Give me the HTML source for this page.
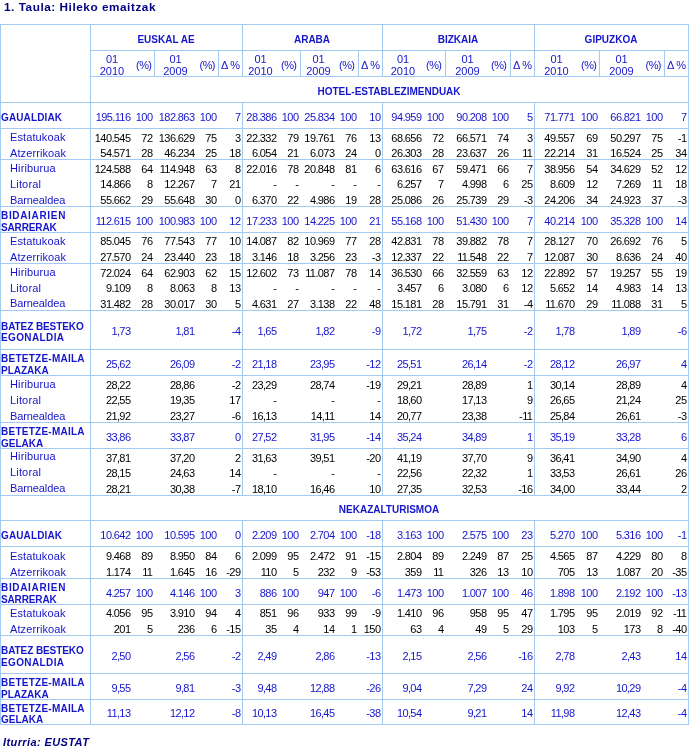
<!DOCTYPE html>
<html><head><meta charset="utf-8"><title>Hileko emaitzak</title><style>
html,body{margin:0;padding:0;background:#fff;}
body{width:691px;height:750px;position:relative;overflow:hidden;font-family:"Liberation Sans",sans-serif;}
#w{position:absolute;left:0;top:0;width:691px;height:750px;will-change:transform;}
.l{position:absolute;background:#a3cbf2;}
.n,.t,.b,.title,.foot{position:absolute;white-space:nowrap;line-height:20px;}
.n{font-size:11px;letter-spacing:-0.6px;}
.t{font-size:11px;}
.b{font-size:10px;font-weight:bold;}
.title{font-size:11.75px;font-weight:bold;color:#000080;letter-spacing:0.55px;}
.foot{font-size:11px;letter-spacing:0.4px;font-weight:bold;font-style:italic;color:#000080;}
</style></head><body>
<div id="w"><div class="l" style="left:0px;top:24px;width:689px;height:1px"></div>
<div class="l" style="left:0px;top:102px;width:689px;height:1px"></div>
<div class="l" style="left:0px;top:128px;width:689px;height:1px"></div>
<div class="l" style="left:0px;top:159px;width:689px;height:1px"></div>
<div class="l" style="left:0px;top:206px;width:689px;height:1px"></div>
<div class="l" style="left:0px;top:232px;width:689px;height:1px"></div>
<div class="l" style="left:0px;top:263px;width:689px;height:1px"></div>
<div class="l" style="left:0px;top:310px;width:689px;height:1px"></div>
<div class="l" style="left:0px;top:349px;width:689px;height:1px"></div>
<div class="l" style="left:0px;top:375px;width:689px;height:1px"></div>
<div class="l" style="left:0px;top:422px;width:689px;height:1px"></div>
<div class="l" style="left:0px;top:448px;width:689px;height:1px"></div>
<div class="l" style="left:0px;top:495px;width:689px;height:1px"></div>
<div class="l" style="left:0px;top:520px;width:689px;height:1px"></div>
<div class="l" style="left:0px;top:546px;width:689px;height:1px"></div>
<div class="l" style="left:0px;top:578px;width:689px;height:1px"></div>
<div class="l" style="left:0px;top:604px;width:689px;height:1px"></div>
<div class="l" style="left:0px;top:635px;width:689px;height:1px"></div>
<div class="l" style="left:0px;top:673px;width:689px;height:1px"></div>
<div class="l" style="left:0px;top:699px;width:689px;height:1px"></div>
<div class="l" style="left:0px;top:724px;width:689px;height:1px"></div>
<div class="l" style="left:90px;top:50px;width:599px;height:1px"></div>
<div class="l" style="left:90px;top:76px;width:599px;height:1px"></div>
<div class="l" style="left:0px;top:24px;width:1px;height:701px"></div>
<div class="l" style="left:688px;top:24px;width:1px;height:701px"></div>
<div class="l" style="left:90px;top:24px;width:1px;height:701px"></div>
<div class="l" style="left:242px;top:24px;width:1px;height:52px"></div>
<div class="l" style="left:242px;top:102px;width:1px;height:393px"></div>
<div class="l" style="left:242px;top:520px;width:1px;height:204px"></div>
<div class="l" style="left:382px;top:24px;width:1px;height:52px"></div>
<div class="l" style="left:382px;top:102px;width:1px;height:393px"></div>
<div class="l" style="left:382px;top:520px;width:1px;height:204px"></div>
<div class="l" style="left:534px;top:24px;width:1px;height:52px"></div>
<div class="l" style="left:534px;top:102px;width:1px;height:393px"></div>
<div class="l" style="left:534px;top:520px;width:1px;height:204px"></div>
<div class="l" style="left:154px;top:50px;width:1px;height:26px"></div>
<div class="l" style="left:218px;top:50px;width:1px;height:26px"></div>
<div class="l" style="left:300px;top:50px;width:1px;height:26px"></div>
<div class="l" style="left:358px;top:50px;width:1px;height:26px"></div>
<div class="l" style="left:445px;top:50px;width:1px;height:26px"></div>
<div class="l" style="left:510px;top:50px;width:1px;height:26px"></div>
<div class="l" style="left:599px;top:50px;width:1px;height:26px"></div>
<div class="l" style="left:664px;top:50px;width:1px;height:26px"></div>
<div class="title" style="left:4px;top:-3px">1. Taula: Hileko emaitzak</div>
<div class="foot" style="left:3px;top:732px">Iturria: EUSTAT</div>
<div class="b" style="left:-34px;width:400px;text-align:center;top:30px;color:#1515cc;">EUSKAL AE</div>
<div class="t" style="left:-88px;width:400px;text-align:center;top:49px;color:#1515cc;">01</div>
<div class="t" style="left:-88px;width:400px;text-align:center;top:61px;color:#1515cc;">2010</div>
<div class="t" style="left:-24.5px;width:400px;text-align:center;top:49px;color:#1515cc;">01</div>
<div class="t" style="left:-24.5px;width:400px;text-align:center;top:61px;color:#1515cc;">2009</div>
<div class="n" style="right:539.6px;top:55px;color:#1515cc">(%)</div>
<div class="n" style="right:476.1px;top:55px;color:#1515cc">(%)</div>
<div class="n" style="right:451.6px;top:55px;color:#1515cc">&Delta;&nbsp;%</div>
<div class="b" style="left:112px;width:400px;text-align:center;top:30px;color:#1515cc;">ARABA</div>
<div class="t" style="left:60.5px;width:400px;text-align:center;top:49px;color:#1515cc;">01</div>
<div class="t" style="left:60.5px;width:400px;text-align:center;top:61px;color:#1515cc;">2010</div>
<div class="t" style="left:118.5px;width:400px;text-align:center;top:49px;color:#1515cc;">01</div>
<div class="t" style="left:118.5px;width:400px;text-align:center;top:61px;color:#1515cc;">2009</div>
<div class="n" style="right:394.6px;top:55px;color:#1515cc">(%)</div>
<div class="n" style="right:336.6px;top:55px;color:#1515cc">(%)</div>
<div class="n" style="right:311.6px;top:55px;color:#1515cc">&Delta;&nbsp;%</div>
<div class="b" style="left:258px;width:400px;text-align:center;top:30px;color:#1515cc;">BIZKAIA</div>
<div class="t" style="left:203px;width:400px;text-align:center;top:49px;color:#1515cc;">01</div>
<div class="t" style="left:203px;width:400px;text-align:center;top:61px;color:#1515cc;">2010</div>
<div class="t" style="left:267.5px;width:400px;text-align:center;top:49px;color:#1515cc;">01</div>
<div class="t" style="left:267.5px;width:400px;text-align:center;top:61px;color:#1515cc;">2009</div>
<div class="n" style="right:249.6px;top:55px;color:#1515cc">(%)</div>
<div class="n" style="right:184.6px;top:55px;color:#1515cc">(%)</div>
<div class="n" style="right:159.6px;top:55px;color:#1515cc">&Delta;&nbsp;%</div>
<div class="b" style="left:411px;width:400px;text-align:center;top:30px;color:#1515cc;">GIPUZKOA</div>
<div class="t" style="left:356.5px;width:400px;text-align:center;top:49px;color:#1515cc;">01</div>
<div class="t" style="left:356.5px;width:400px;text-align:center;top:61px;color:#1515cc;">2010</div>
<div class="t" style="left:421.5px;width:400px;text-align:center;top:49px;color:#1515cc;">01</div>
<div class="t" style="left:421.5px;width:400px;text-align:center;top:61px;color:#1515cc;">2009</div>
<div class="n" style="right:94.6px;top:55px;color:#1515cc">(%)</div>
<div class="n" style="right:30.1px;top:55px;color:#1515cc">(%)</div>
<div class="n" style="right:5.6px;top:55px;color:#1515cc">&Delta;&nbsp;%</div>
<div class="b" style="left:189px;width:400px;text-align:center;top:82px;color:#1515cc;">HOTEL-ESTABLEZIMENDUAK</div>
<div class="b" style="left:189px;width:400px;text-align:center;top:500px;color:#1515cc;">NEKAZALTURISMOA</div>
<div class="b" style="left:1px;top:108px;color:#1515cc;letter-spacing:0.12px">GAUALDIAK</div>
<div class="n" style="right:560.6px;top:107px;color:#1515cc">195.116</div>
<div class="n" style="right:538.6px;top:107px;color:#1515cc">100</div>
<div class="n" style="right:496.6px;top:107px;color:#1515cc">182.863</div>
<div class="n" style="right:474.6px;top:107px;color:#1515cc">100</div>
<div class="n" style="right:450.6px;top:107px;color:#1515cc">7</div>
<div class="n" style="right:414.6px;top:107px;color:#1515cc">28.386</div>
<div class="n" style="right:392.6px;top:107px;color:#1515cc">100</div>
<div class="n" style="right:356.6px;top:107px;color:#1515cc">25.834</div>
<div class="n" style="right:334.6px;top:107px;color:#1515cc">100</div>
<div class="n" style="right:310.6px;top:107px;color:#1515cc">10</div>
<div class="n" style="right:269.6px;top:107px;color:#1515cc">94.959</div>
<div class="n" style="right:247.6px;top:107px;color:#1515cc">100</div>
<div class="n" style="right:204.6px;top:107px;color:#1515cc">90.208</div>
<div class="n" style="right:182.6px;top:107px;color:#1515cc">100</div>
<div class="n" style="right:158.6px;top:107px;color:#1515cc">5</div>
<div class="n" style="right:116.6px;top:107px;color:#1515cc">71.771</div>
<div class="n" style="right:93.6px;top:107px;color:#1515cc">100</div>
<div class="n" style="right:50.6px;top:107px;color:#1515cc">66.821</div>
<div class="n" style="right:28.6px;top:107px;color:#1515cc">100</div>
<div class="n" style="right:4.6px;top:107px;color:#1515cc">7</div>
<div class="t" style="left:10px;top:127px;color:#1515cc;letter-spacing:0.11px">Estatukoak</div>
<div class="t" style="left:10px;top:143px;color:#1515cc;letter-spacing:0.1px">Atzerrikoak</div>
<div class="n" style="right:560.6px;top:128px;color:#000">140.545</div>
<div class="n" style="right:538.6px;top:128px;color:#000">72</div>
<div class="n" style="right:496.6px;top:128px;color:#000">136.629</div>
<div class="n" style="right:474.6px;top:128px;color:#000">75</div>
<div class="n" style="right:450.6px;top:128px;color:#000">3</div>
<div class="n" style="right:560.6px;top:143px;color:#000">54.571</div>
<div class="n" style="right:538.6px;top:143px;color:#000">28</div>
<div class="n" style="right:496.6px;top:143px;color:#000">46.234</div>
<div class="n" style="right:474.6px;top:143px;color:#000">25</div>
<div class="n" style="right:450.6px;top:143px;color:#000">18</div>
<div class="n" style="right:414.6px;top:128px;color:#000">22.332</div>
<div class="n" style="right:392.6px;top:128px;color:#000">79</div>
<div class="n" style="right:356.6px;top:128px;color:#000">19.761</div>
<div class="n" style="right:334.6px;top:128px;color:#000">76</div>
<div class="n" style="right:310.6px;top:128px;color:#000">13</div>
<div class="n" style="right:414.6px;top:143px;color:#000">6.054</div>
<div class="n" style="right:392.6px;top:143px;color:#000">21</div>
<div class="n" style="right:356.6px;top:143px;color:#000">6.073</div>
<div class="n" style="right:334.6px;top:143px;color:#000">24</div>
<div class="n" style="right:310.6px;top:143px;color:#000">0</div>
<div class="n" style="right:269.6px;top:128px;color:#000">68.656</div>
<div class="n" style="right:247.6px;top:128px;color:#000">72</div>
<div class="n" style="right:204.6px;top:128px;color:#000">66.571</div>
<div class="n" style="right:182.6px;top:128px;color:#000">74</div>
<div class="n" style="right:158.6px;top:128px;color:#000">3</div>
<div class="n" style="right:269.6px;top:143px;color:#000">26.303</div>
<div class="n" style="right:247.6px;top:143px;color:#000">28</div>
<div class="n" style="right:204.6px;top:143px;color:#000">23.637</div>
<div class="n" style="right:182.6px;top:143px;color:#000">26</div>
<div class="n" style="right:158.6px;top:143px;color:#000">11</div>
<div class="n" style="right:116.6px;top:128px;color:#000">49.557</div>
<div class="n" style="right:93.6px;top:128px;color:#000">69</div>
<div class="n" style="right:50.6px;top:128px;color:#000">50.297</div>
<div class="n" style="right:28.6px;top:128px;color:#000">75</div>
<div class="n" style="right:4.6px;top:128px;color:#000">-1</div>
<div class="n" style="right:116.6px;top:143px;color:#000">22.214</div>
<div class="n" style="right:93.6px;top:143px;color:#000">31</div>
<div class="n" style="right:50.6px;top:143px;color:#000">16.524</div>
<div class="n" style="right:28.6px;top:143px;color:#000">25</div>
<div class="n" style="right:4.6px;top:143px;color:#000">34</div>
<div class="t" style="left:10px;top:158px;color:#1515cc;letter-spacing:0.12px">Hiriburua</div>
<div class="t" style="left:10px;top:174px;color:#1515cc;letter-spacing:0.16px">Litoral</div>
<div class="t" style="left:10px;top:190px;color:#1515cc;letter-spacing:-0.11px">Barnealdea</div>
<div class="n" style="right:560.6px;top:159px;color:#000">124.588</div>
<div class="n" style="right:538.6px;top:159px;color:#000">64</div>
<div class="n" style="right:496.6px;top:159px;color:#000">114.948</div>
<div class="n" style="right:474.6px;top:159px;color:#000">63</div>
<div class="n" style="right:450.6px;top:159px;color:#000">8</div>
<div class="n" style="right:560.6px;top:174px;color:#000">14.866</div>
<div class="n" style="right:538.6px;top:174px;color:#000">8</div>
<div class="n" style="right:496.6px;top:174px;color:#000">12.267</div>
<div class="n" style="right:474.6px;top:174px;color:#000">7</div>
<div class="n" style="right:450.6px;top:174px;color:#000">21</div>
<div class="n" style="right:560.6px;top:190px;color:#000">55.662</div>
<div class="n" style="right:538.6px;top:190px;color:#000">29</div>
<div class="n" style="right:496.6px;top:190px;color:#000">55.648</div>
<div class="n" style="right:474.6px;top:190px;color:#000">30</div>
<div class="n" style="right:450.6px;top:190px;color:#000">0</div>
<div class="n" style="right:414.6px;top:159px;color:#000">22.016</div>
<div class="n" style="right:392.6px;top:159px;color:#000">78</div>
<div class="n" style="right:356.6px;top:159px;color:#000">20.848</div>
<div class="n" style="right:334.6px;top:159px;color:#000">81</div>
<div class="n" style="right:310.6px;top:159px;color:#000">6</div>
<div class="n" style="right:414.6px;top:174px;color:#000">-</div>
<div class="n" style="right:392.6px;top:174px;color:#000">-</div>
<div class="n" style="right:356.6px;top:174px;color:#000">-</div>
<div class="n" style="right:334.6px;top:174px;color:#000">-</div>
<div class="n" style="right:310.6px;top:174px;color:#000">-</div>
<div class="n" style="right:414.6px;top:190px;color:#000">6.370</div>
<div class="n" style="right:392.6px;top:190px;color:#000">22</div>
<div class="n" style="right:356.6px;top:190px;color:#000">4.986</div>
<div class="n" style="right:334.6px;top:190px;color:#000">19</div>
<div class="n" style="right:310.6px;top:190px;color:#000">28</div>
<div class="n" style="right:269.6px;top:159px;color:#000">63.616</div>
<div class="n" style="right:247.6px;top:159px;color:#000">67</div>
<div class="n" style="right:204.6px;top:159px;color:#000">59.471</div>
<div class="n" style="right:182.6px;top:159px;color:#000">66</div>
<div class="n" style="right:158.6px;top:159px;color:#000">7</div>
<div class="n" style="right:269.6px;top:174px;color:#000">6.257</div>
<div class="n" style="right:247.6px;top:174px;color:#000">7</div>
<div class="n" style="right:204.6px;top:174px;color:#000">4.998</div>
<div class="n" style="right:182.6px;top:174px;color:#000">6</div>
<div class="n" style="right:158.6px;top:174px;color:#000">25</div>
<div class="n" style="right:269.6px;top:190px;color:#000">25.086</div>
<div class="n" style="right:247.6px;top:190px;color:#000">26</div>
<div class="n" style="right:204.6px;top:190px;color:#000">25.739</div>
<div class="n" style="right:182.6px;top:190px;color:#000">29</div>
<div class="n" style="right:158.6px;top:190px;color:#000">-3</div>
<div class="n" style="right:116.6px;top:159px;color:#000">38.956</div>
<div class="n" style="right:93.6px;top:159px;color:#000">54</div>
<div class="n" style="right:50.6px;top:159px;color:#000">34.629</div>
<div class="n" style="right:28.6px;top:159px;color:#000">52</div>
<div class="n" style="right:4.6px;top:159px;color:#000">12</div>
<div class="n" style="right:116.6px;top:174px;color:#000">8.609</div>
<div class="n" style="right:93.6px;top:174px;color:#000">12</div>
<div class="n" style="right:50.6px;top:174px;color:#000">7.269</div>
<div class="n" style="right:28.6px;top:174px;color:#000">11</div>
<div class="n" style="right:4.6px;top:174px;color:#000">18</div>
<div class="n" style="right:116.6px;top:190px;color:#000">24.206</div>
<div class="n" style="right:93.6px;top:190px;color:#000">34</div>
<div class="n" style="right:50.6px;top:190px;color:#000">24.923</div>
<div class="n" style="right:28.6px;top:190px;color:#000">37</div>
<div class="n" style="right:4.6px;top:190px;color:#000">-3</div>
<div class="b" style="left:1px;top:206px;color:#1515cc;letter-spacing:0.67px">BIDAIARIEN</div>
<div class="b" style="left:1px;top:218px;color:#1515cc;letter-spacing:-0.14px">SARRERAK</div>
<div class="n" style="right:560.6px;top:211px;color:#1515cc">112.615</div>
<div class="n" style="right:538.6px;top:211px;color:#1515cc">100</div>
<div class="n" style="right:496.6px;top:211px;color:#1515cc">100.983</div>
<div class="n" style="right:474.6px;top:211px;color:#1515cc">100</div>
<div class="n" style="right:450.6px;top:211px;color:#1515cc">12</div>
<div class="n" style="right:414.6px;top:211px;color:#1515cc">17.233</div>
<div class="n" style="right:392.6px;top:211px;color:#1515cc">100</div>
<div class="n" style="right:356.6px;top:211px;color:#1515cc">14.225</div>
<div class="n" style="right:334.6px;top:211px;color:#1515cc">100</div>
<div class="n" style="right:310.6px;top:211px;color:#1515cc">21</div>
<div class="n" style="right:269.6px;top:211px;color:#1515cc">55.168</div>
<div class="n" style="right:247.6px;top:211px;color:#1515cc">100</div>
<div class="n" style="right:204.6px;top:211px;color:#1515cc">51.430</div>
<div class="n" style="right:182.6px;top:211px;color:#1515cc">100</div>
<div class="n" style="right:158.6px;top:211px;color:#1515cc">7</div>
<div class="n" style="right:116.6px;top:211px;color:#1515cc">40.214</div>
<div class="n" style="right:93.6px;top:211px;color:#1515cc">100</div>
<div class="n" style="right:50.6px;top:211px;color:#1515cc">35.328</div>
<div class="n" style="right:28.6px;top:211px;color:#1515cc">100</div>
<div class="n" style="right:4.6px;top:211px;color:#1515cc">14</div>
<div class="t" style="left:10px;top:231px;color:#1515cc;letter-spacing:0.11px">Estatukoak</div>
<div class="t" style="left:10px;top:247px;color:#1515cc;letter-spacing:0.1px">Atzerrikoak</div>
<div class="n" style="right:560.6px;top:231px;color:#000">85.045</div>
<div class="n" style="right:538.6px;top:231px;color:#000">76</div>
<div class="n" style="right:496.6px;top:231px;color:#000">77.543</div>
<div class="n" style="right:474.6px;top:231px;color:#000">77</div>
<div class="n" style="right:450.6px;top:231px;color:#000">10</div>
<div class="n" style="right:560.6px;top:247px;color:#000">27.570</div>
<div class="n" style="right:538.6px;top:247px;color:#000">24</div>
<div class="n" style="right:496.6px;top:247px;color:#000">23.440</div>
<div class="n" style="right:474.6px;top:247px;color:#000">23</div>
<div class="n" style="right:450.6px;top:247px;color:#000">18</div>
<div class="n" style="right:414.6px;top:231px;color:#000">14.087</div>
<div class="n" style="right:392.6px;top:231px;color:#000">82</div>
<div class="n" style="right:356.6px;top:231px;color:#000">10.969</div>
<div class="n" style="right:334.6px;top:231px;color:#000">77</div>
<div class="n" style="right:310.6px;top:231px;color:#000">28</div>
<div class="n" style="right:414.6px;top:247px;color:#000">3.146</div>
<div class="n" style="right:392.6px;top:247px;color:#000">18</div>
<div class="n" style="right:356.6px;top:247px;color:#000">3.256</div>
<div class="n" style="right:334.6px;top:247px;color:#000">23</div>
<div class="n" style="right:310.6px;top:247px;color:#000">-3</div>
<div class="n" style="right:269.6px;top:231px;color:#000">42.831</div>
<div class="n" style="right:247.6px;top:231px;color:#000">78</div>
<div class="n" style="right:204.6px;top:231px;color:#000">39.882</div>
<div class="n" style="right:182.6px;top:231px;color:#000">78</div>
<div class="n" style="right:158.6px;top:231px;color:#000">7</div>
<div class="n" style="right:269.6px;top:247px;color:#000">12.337</div>
<div class="n" style="right:247.6px;top:247px;color:#000">22</div>
<div class="n" style="right:204.6px;top:247px;color:#000">11.548</div>
<div class="n" style="right:182.6px;top:247px;color:#000">22</div>
<div class="n" style="right:158.6px;top:247px;color:#000">7</div>
<div class="n" style="right:116.6px;top:231px;color:#000">28.127</div>
<div class="n" style="right:93.6px;top:231px;color:#000">70</div>
<div class="n" style="right:50.6px;top:231px;color:#000">26.692</div>
<div class="n" style="right:28.6px;top:231px;color:#000">76</div>
<div class="n" style="right:4.6px;top:231px;color:#000">5</div>
<div class="n" style="right:116.6px;top:247px;color:#000">12.087</div>
<div class="n" style="right:93.6px;top:247px;color:#000">30</div>
<div class="n" style="right:50.6px;top:247px;color:#000">8.636</div>
<div class="n" style="right:28.6px;top:247px;color:#000">24</div>
<div class="n" style="right:4.6px;top:247px;color:#000">40</div>
<div class="t" style="left:10px;top:262px;color:#1515cc;letter-spacing:0.12px">Hiriburua</div>
<div class="t" style="left:10px;top:278px;color:#1515cc;letter-spacing:0.16px">Litoral</div>
<div class="t" style="left:10px;top:293px;color:#1515cc;letter-spacing:-0.11px">Barnealdea</div>
<div class="n" style="right:560.6px;top:263px;color:#000">72.024</div>
<div class="n" style="right:538.6px;top:263px;color:#000">64</div>
<div class="n" style="right:496.6px;top:263px;color:#000">62.903</div>
<div class="n" style="right:474.6px;top:263px;color:#000">62</div>
<div class="n" style="right:450.6px;top:263px;color:#000">15</div>
<div class="n" style="right:560.6px;top:278px;color:#000">9.109</div>
<div class="n" style="right:538.6px;top:278px;color:#000">8</div>
<div class="n" style="right:496.6px;top:278px;color:#000">8.063</div>
<div class="n" style="right:474.6px;top:278px;color:#000">8</div>
<div class="n" style="right:450.6px;top:278px;color:#000">13</div>
<div class="n" style="right:560.6px;top:294px;color:#000">31.482</div>
<div class="n" style="right:538.6px;top:294px;color:#000">28</div>
<div class="n" style="right:496.6px;top:294px;color:#000">30.017</div>
<div class="n" style="right:474.6px;top:294px;color:#000">30</div>
<div class="n" style="right:450.6px;top:294px;color:#000">5</div>
<div class="n" style="right:414.6px;top:263px;color:#000">12.602</div>
<div class="n" style="right:392.6px;top:263px;color:#000">73</div>
<div class="n" style="right:356.6px;top:263px;color:#000">11.087</div>
<div class="n" style="right:334.6px;top:263px;color:#000">78</div>
<div class="n" style="right:310.6px;top:263px;color:#000">14</div>
<div class="n" style="right:414.6px;top:278px;color:#000">-</div>
<div class="n" style="right:392.6px;top:278px;color:#000">-</div>
<div class="n" style="right:356.6px;top:278px;color:#000">-</div>
<div class="n" style="right:334.6px;top:278px;color:#000">-</div>
<div class="n" style="right:310.6px;top:278px;color:#000">-</div>
<div class="n" style="right:414.6px;top:294px;color:#000">4.631</div>
<div class="n" style="right:392.6px;top:294px;color:#000">27</div>
<div class="n" style="right:356.6px;top:294px;color:#000">3.138</div>
<div class="n" style="right:334.6px;top:294px;color:#000">22</div>
<div class="n" style="right:310.6px;top:294px;color:#000">48</div>
<div class="n" style="right:269.6px;top:263px;color:#000">36.530</div>
<div class="n" style="right:247.6px;top:263px;color:#000">66</div>
<div class="n" style="right:204.6px;top:263px;color:#000">32.559</div>
<div class="n" style="right:182.6px;top:263px;color:#000">63</div>
<div class="n" style="right:158.6px;top:263px;color:#000">12</div>
<div class="n" style="right:269.6px;top:278px;color:#000">3.457</div>
<div class="n" style="right:247.6px;top:278px;color:#000">6</div>
<div class="n" style="right:204.6px;top:278px;color:#000">3.080</div>
<div class="n" style="right:182.6px;top:278px;color:#000">6</div>
<div class="n" style="right:158.6px;top:278px;color:#000">12</div>
<div class="n" style="right:269.6px;top:294px;color:#000">15.181</div>
<div class="n" style="right:247.6px;top:294px;color:#000">28</div>
<div class="n" style="right:204.6px;top:294px;color:#000">15.791</div>
<div class="n" style="right:182.6px;top:294px;color:#000">31</div>
<div class="n" style="right:158.6px;top:294px;color:#000">-4</div>
<div class="n" style="right:116.6px;top:263px;color:#000">22.892</div>
<div class="n" style="right:93.6px;top:263px;color:#000">57</div>
<div class="n" style="right:50.6px;top:263px;color:#000">19.257</div>
<div class="n" style="right:28.6px;top:263px;color:#000">55</div>
<div class="n" style="right:4.6px;top:263px;color:#000">19</div>
<div class="n" style="right:116.6px;top:278px;color:#000">5.652</div>
<div class="n" style="right:93.6px;top:278px;color:#000">14</div>
<div class="n" style="right:50.6px;top:278px;color:#000">4.983</div>
<div class="n" style="right:28.6px;top:278px;color:#000">14</div>
<div class="n" style="right:4.6px;top:278px;color:#000">13</div>
<div class="n" style="right:116.6px;top:294px;color:#000">11.670</div>
<div class="n" style="right:93.6px;top:294px;color:#000">29</div>
<div class="n" style="right:50.6px;top:294px;color:#000">11.088</div>
<div class="n" style="right:28.6px;top:294px;color:#000">31</div>
<div class="n" style="right:4.6px;top:294px;color:#000">5</div>
<div class="b" style="left:1px;top:317px;color:#1515cc;letter-spacing:-0.08px">BATEZ BESTEKO</div>
<div class="b" style="left:1px;top:328px;color:#1515cc;letter-spacing:0.375px">EGONALDIA</div>
<div class="n" style="right:560.6px;top:321px;color:#1515cc">1,73</div>
<div class="n" style="right:496.6px;top:321px;color:#1515cc">1,81</div>
<div class="n" style="right:450.6px;top:321px;color:#1515cc">-4</div>
<div class="n" style="right:414.6px;top:321px;color:#1515cc">1,65</div>
<div class="n" style="right:356.6px;top:321px;color:#1515cc">1,82</div>
<div class="n" style="right:310.6px;top:321px;color:#1515cc">-9</div>
<div class="n" style="right:269.6px;top:321px;color:#1515cc">1,72</div>
<div class="n" style="right:204.6px;top:321px;color:#1515cc">1,75</div>
<div class="n" style="right:158.6px;top:321px;color:#1515cc">-2</div>
<div class="n" style="right:116.6px;top:321px;color:#1515cc">1,78</div>
<div class="n" style="right:50.6px;top:321px;color:#1515cc">1,89</div>
<div class="n" style="right:4.6px;top:321px;color:#1515cc">-6</div>
<div class="b" style="left:1px;top:349px;color:#1515cc;letter-spacing:0.25px">BETETZE-MAILA</div>
<div class="b" style="left:1px;top:361px;color:#1515cc;letter-spacing:0px">PLAZAKA</div>
<div class="n" style="right:560.6px;top:354px;color:#1515cc">25,62</div>
<div class="n" style="right:496.6px;top:354px;color:#1515cc">26,09</div>
<div class="n" style="right:450.6px;top:354px;color:#1515cc">-2</div>
<div class="n" style="right:414.6px;top:354px;color:#1515cc">21,18</div>
<div class="n" style="right:356.6px;top:354px;color:#1515cc">23,95</div>
<div class="n" style="right:310.6px;top:354px;color:#1515cc">-12</div>
<div class="n" style="right:269.6px;top:354px;color:#1515cc">25,51</div>
<div class="n" style="right:204.6px;top:354px;color:#1515cc">26,14</div>
<div class="n" style="right:158.6px;top:354px;color:#1515cc">-2</div>
<div class="n" style="right:116.6px;top:354px;color:#1515cc">28,12</div>
<div class="n" style="right:50.6px;top:354px;color:#1515cc">26,97</div>
<div class="n" style="right:4.6px;top:354px;color:#1515cc">4</div>
<div class="t" style="left:10px;top:374px;color:#1515cc;letter-spacing:0.12px">Hiriburua</div>
<div class="t" style="left:10px;top:390px;color:#1515cc;letter-spacing:0.16px">Litoral</div>
<div class="t" style="left:10px;top:406px;color:#1515cc;letter-spacing:-0.11px">Barnealdea</div>
<div class="n" style="right:560.6px;top:375px;color:#000">28,22</div>
<div class="n" style="right:496.6px;top:375px;color:#000">28,86</div>
<div class="n" style="right:450.6px;top:375px;color:#000">-2</div>
<div class="n" style="right:560.6px;top:390px;color:#000">22,55</div>
<div class="n" style="right:496.6px;top:390px;color:#000">19,35</div>
<div class="n" style="right:450.6px;top:390px;color:#000">17</div>
<div class="n" style="right:560.6px;top:406px;color:#000">21,92</div>
<div class="n" style="right:496.6px;top:406px;color:#000">23,27</div>
<div class="n" style="right:450.6px;top:406px;color:#000">-6</div>
<div class="n" style="right:414.6px;top:375px;color:#000">23,29</div>
<div class="n" style="right:356.6px;top:375px;color:#000">28,74</div>
<div class="n" style="right:310.6px;top:375px;color:#000">-19</div>
<div class="n" style="right:414.6px;top:390px;color:#000">-</div>
<div class="n" style="right:356.6px;top:390px;color:#000">-</div>
<div class="n" style="right:310.6px;top:390px;color:#000">-</div>
<div class="n" style="right:414.6px;top:406px;color:#000">16,13</div>
<div class="n" style="right:356.6px;top:406px;color:#000">14,11</div>
<div class="n" style="right:310.6px;top:406px;color:#000">14</div>
<div class="n" style="right:269.6px;top:375px;color:#000">29,21</div>
<div class="n" style="right:204.6px;top:375px;color:#000">28,89</div>
<div class="n" style="right:158.6px;top:375px;color:#000">1</div>
<div class="n" style="right:269.6px;top:390px;color:#000">18,60</div>
<div class="n" style="right:204.6px;top:390px;color:#000">17,13</div>
<div class="n" style="right:158.6px;top:390px;color:#000">9</div>
<div class="n" style="right:269.6px;top:406px;color:#000">20,77</div>
<div class="n" style="right:204.6px;top:406px;color:#000">23,38</div>
<div class="n" style="right:158.6px;top:406px;color:#000">-11</div>
<div class="n" style="right:116.6px;top:375px;color:#000">30,14</div>
<div class="n" style="right:50.6px;top:375px;color:#000">28,89</div>
<div class="n" style="right:4.6px;top:375px;color:#000">4</div>
<div class="n" style="right:116.6px;top:390px;color:#000">26,65</div>
<div class="n" style="right:50.6px;top:390px;color:#000">21,24</div>
<div class="n" style="right:4.6px;top:390px;color:#000">25</div>
<div class="n" style="right:116.6px;top:406px;color:#000">25,84</div>
<div class="n" style="right:50.6px;top:406px;color:#000">26,61</div>
<div class="n" style="right:4.6px;top:406px;color:#000">-3</div>
<div class="b" style="left:1px;top:422px;color:#1515cc;letter-spacing:0.25px">BETETZE-MAILA</div>
<div class="b" style="left:1px;top:434px;color:#1515cc;letter-spacing:0px">GELAKA</div>
<div class="n" style="right:560.6px;top:427px;color:#1515cc">33,86</div>
<div class="n" style="right:496.6px;top:427px;color:#1515cc">33,87</div>
<div class="n" style="right:450.6px;top:427px;color:#1515cc">0</div>
<div class="n" style="right:414.6px;top:427px;color:#1515cc">27,52</div>
<div class="n" style="right:356.6px;top:427px;color:#1515cc">31,95</div>
<div class="n" style="right:310.6px;top:427px;color:#1515cc">-14</div>
<div class="n" style="right:269.6px;top:427px;color:#1515cc">35,24</div>
<div class="n" style="right:204.6px;top:427px;color:#1515cc">34,89</div>
<div class="n" style="right:158.6px;top:427px;color:#1515cc">1</div>
<div class="n" style="right:116.6px;top:427px;color:#1515cc">35,19</div>
<div class="n" style="right:50.6px;top:427px;color:#1515cc">33,28</div>
<div class="n" style="right:4.6px;top:427px;color:#1515cc">6</div>
<div class="t" style="left:10px;top:446px;color:#1515cc;letter-spacing:0.12px">Hiriburua</div>
<div class="t" style="left:10px;top:462px;color:#1515cc;letter-spacing:0.16px">Litoral</div>
<div class="t" style="left:10px;top:478px;color:#1515cc;letter-spacing:-0.11px">Barnealdea</div>
<div class="n" style="right:560.6px;top:448px;color:#000">37,81</div>
<div class="n" style="right:496.6px;top:448px;color:#000">37,20</div>
<div class="n" style="right:450.6px;top:448px;color:#000">2</div>
<div class="n" style="right:560.6px;top:463px;color:#000">28,15</div>
<div class="n" style="right:496.6px;top:463px;color:#000">24,63</div>
<div class="n" style="right:450.6px;top:463px;color:#000">14</div>
<div class="n" style="right:560.6px;top:479px;color:#000">28,21</div>
<div class="n" style="right:496.6px;top:479px;color:#000">30,38</div>
<div class="n" style="right:450.6px;top:479px;color:#000">-7</div>
<div class="n" style="right:414.6px;top:448px;color:#000">31,63</div>
<div class="n" style="right:356.6px;top:448px;color:#000">39,51</div>
<div class="n" style="right:310.6px;top:448px;color:#000">-20</div>
<div class="n" style="right:414.6px;top:463px;color:#000">-</div>
<div class="n" style="right:356.6px;top:463px;color:#000">-</div>
<div class="n" style="right:310.6px;top:463px;color:#000">-</div>
<div class="n" style="right:414.6px;top:479px;color:#000">18,10</div>
<div class="n" style="right:356.6px;top:479px;color:#000">16,46</div>
<div class="n" style="right:310.6px;top:479px;color:#000">10</div>
<div class="n" style="right:269.6px;top:448px;color:#000">41,19</div>
<div class="n" style="right:204.6px;top:448px;color:#000">37,70</div>
<div class="n" style="right:158.6px;top:448px;color:#000">9</div>
<div class="n" style="right:269.6px;top:463px;color:#000">22,56</div>
<div class="n" style="right:204.6px;top:463px;color:#000">22,32</div>
<div class="n" style="right:158.6px;top:463px;color:#000">1</div>
<div class="n" style="right:269.6px;top:479px;color:#000">27,35</div>
<div class="n" style="right:204.6px;top:479px;color:#000">32,53</div>
<div class="n" style="right:158.6px;top:479px;color:#000">-16</div>
<div class="n" style="right:116.6px;top:448px;color:#000">36,41</div>
<div class="n" style="right:50.6px;top:448px;color:#000">34,90</div>
<div class="n" style="right:4.6px;top:448px;color:#000">4</div>
<div class="n" style="right:116.6px;top:463px;color:#000">33,53</div>
<div class="n" style="right:50.6px;top:463px;color:#000">26,61</div>
<div class="n" style="right:4.6px;top:463px;color:#000">26</div>
<div class="n" style="right:116.6px;top:479px;color:#000">34,00</div>
<div class="n" style="right:50.6px;top:479px;color:#000">33,44</div>
<div class="n" style="right:4.6px;top:479px;color:#000">2</div>
<div class="b" style="left:1px;top:526px;color:#1515cc;letter-spacing:0.12px">GAUALDIAK</div>
<div class="n" style="right:560.6px;top:525px;color:#1515cc">10.642</div>
<div class="n" style="right:538.6px;top:525px;color:#1515cc">100</div>
<div class="n" style="right:496.6px;top:525px;color:#1515cc">10.595</div>
<div class="n" style="right:474.6px;top:525px;color:#1515cc">100</div>
<div class="n" style="right:450.6px;top:525px;color:#1515cc">0</div>
<div class="n" style="right:414.6px;top:525px;color:#1515cc">2.209</div>
<div class="n" style="right:392.6px;top:525px;color:#1515cc">100</div>
<div class="n" style="right:356.6px;top:525px;color:#1515cc">2.704</div>
<div class="n" style="right:334.6px;top:525px;color:#1515cc">100</div>
<div class="n" style="right:310.6px;top:525px;color:#1515cc">-18</div>
<div class="n" style="right:269.6px;top:525px;color:#1515cc">3.163</div>
<div class="n" style="right:247.6px;top:525px;color:#1515cc">100</div>
<div class="n" style="right:204.6px;top:525px;color:#1515cc">2.575</div>
<div class="n" style="right:182.6px;top:525px;color:#1515cc">100</div>
<div class="n" style="right:158.6px;top:525px;color:#1515cc">23</div>
<div class="n" style="right:116.6px;top:525px;color:#1515cc">5.270</div>
<div class="n" style="right:93.6px;top:525px;color:#1515cc">100</div>
<div class="n" style="right:50.6px;top:525px;color:#1515cc">5.316</div>
<div class="n" style="right:28.6px;top:525px;color:#1515cc">100</div>
<div class="n" style="right:4.6px;top:525px;color:#1515cc">-1</div>
<div class="t" style="left:10px;top:546px;color:#1515cc;letter-spacing:0.11px">Estatukoak</div>
<div class="t" style="left:10px;top:562px;color:#1515cc;letter-spacing:0.1px">Atzerrikoak</div>
<div class="n" style="right:560.6px;top:546px;color:#000">9.468</div>
<div class="n" style="right:538.6px;top:546px;color:#000">89</div>
<div class="n" style="right:496.6px;top:546px;color:#000">8.950</div>
<div class="n" style="right:474.6px;top:546px;color:#000">84</div>
<div class="n" style="right:450.6px;top:546px;color:#000">6</div>
<div class="n" style="right:560.6px;top:562px;color:#000">1.174</div>
<div class="n" style="right:538.6px;top:562px;color:#000">11</div>
<div class="n" style="right:496.6px;top:562px;color:#000">1.645</div>
<div class="n" style="right:474.6px;top:562px;color:#000">16</div>
<div class="n" style="right:450.6px;top:562px;color:#000">-29</div>
<div class="n" style="right:414.6px;top:546px;color:#000">2.099</div>
<div class="n" style="right:392.6px;top:546px;color:#000">95</div>
<div class="n" style="right:356.6px;top:546px;color:#000">2.472</div>
<div class="n" style="right:334.6px;top:546px;color:#000">91</div>
<div class="n" style="right:310.6px;top:546px;color:#000">-15</div>
<div class="n" style="right:414.6px;top:562px;color:#000">110</div>
<div class="n" style="right:392.6px;top:562px;color:#000">5</div>
<div class="n" style="right:356.6px;top:562px;color:#000">232</div>
<div class="n" style="right:334.6px;top:562px;color:#000">9</div>
<div class="n" style="right:310.6px;top:562px;color:#000">-53</div>
<div class="n" style="right:269.6px;top:546px;color:#000">2.804</div>
<div class="n" style="right:247.6px;top:546px;color:#000">89</div>
<div class="n" style="right:204.6px;top:546px;color:#000">2.249</div>
<div class="n" style="right:182.6px;top:546px;color:#000">87</div>
<div class="n" style="right:158.6px;top:546px;color:#000">25</div>
<div class="n" style="right:269.6px;top:562px;color:#000">359</div>
<div class="n" style="right:247.6px;top:562px;color:#000">11</div>
<div class="n" style="right:204.6px;top:562px;color:#000">326</div>
<div class="n" style="right:182.6px;top:562px;color:#000">13</div>
<div class="n" style="right:158.6px;top:562px;color:#000">10</div>
<div class="n" style="right:116.6px;top:546px;color:#000">4.565</div>
<div class="n" style="right:93.6px;top:546px;color:#000">87</div>
<div class="n" style="right:50.6px;top:546px;color:#000">4.229</div>
<div class="n" style="right:28.6px;top:546px;color:#000">80</div>
<div class="n" style="right:4.6px;top:546px;color:#000">8</div>
<div class="n" style="right:116.6px;top:562px;color:#000">705</div>
<div class="n" style="right:93.6px;top:562px;color:#000">13</div>
<div class="n" style="right:50.6px;top:562px;color:#000">1.087</div>
<div class="n" style="right:28.6px;top:562px;color:#000">20</div>
<div class="n" style="right:4.6px;top:562px;color:#000">-35</div>
<div class="b" style="left:1px;top:578px;color:#1515cc;letter-spacing:0.67px">BIDAIARIEN</div>
<div class="b" style="left:1px;top:590px;color:#1515cc;letter-spacing:-0.14px">SARRERAK</div>
<div class="n" style="right:560.6px;top:583px;color:#1515cc">4.257</div>
<div class="n" style="right:538.6px;top:583px;color:#1515cc">100</div>
<div class="n" style="right:496.6px;top:583px;color:#1515cc">4.146</div>
<div class="n" style="right:474.6px;top:583px;color:#1515cc">100</div>
<div class="n" style="right:450.6px;top:583px;color:#1515cc">3</div>
<div class="n" style="right:414.6px;top:583px;color:#1515cc">886</div>
<div class="n" style="right:392.6px;top:583px;color:#1515cc">100</div>
<div class="n" style="right:356.6px;top:583px;color:#1515cc">947</div>
<div class="n" style="right:334.6px;top:583px;color:#1515cc">100</div>
<div class="n" style="right:310.6px;top:583px;color:#1515cc">-6</div>
<div class="n" style="right:269.6px;top:583px;color:#1515cc">1.473</div>
<div class="n" style="right:247.6px;top:583px;color:#1515cc">100</div>
<div class="n" style="right:204.6px;top:583px;color:#1515cc">1.007</div>
<div class="n" style="right:182.6px;top:583px;color:#1515cc">100</div>
<div class="n" style="right:158.6px;top:583px;color:#1515cc">46</div>
<div class="n" style="right:116.6px;top:583px;color:#1515cc">1.898</div>
<div class="n" style="right:93.6px;top:583px;color:#1515cc">100</div>
<div class="n" style="right:50.6px;top:583px;color:#1515cc">2.192</div>
<div class="n" style="right:28.6px;top:583px;color:#1515cc">100</div>
<div class="n" style="right:4.6px;top:583px;color:#1515cc">-13</div>
<div class="t" style="left:10px;top:603px;color:#1515cc;letter-spacing:0.11px">Estatukoak</div>
<div class="t" style="left:10px;top:619px;color:#1515cc;letter-spacing:0.1px">Atzerrikoak</div>
<div class="n" style="right:560.6px;top:603px;color:#000">4.056</div>
<div class="n" style="right:538.6px;top:603px;color:#000">95</div>
<div class="n" style="right:496.6px;top:603px;color:#000">3.910</div>
<div class="n" style="right:474.6px;top:603px;color:#000">94</div>
<div class="n" style="right:450.6px;top:603px;color:#000">4</div>
<div class="n" style="right:560.6px;top:619px;color:#000">201</div>
<div class="n" style="right:538.6px;top:619px;color:#000">5</div>
<div class="n" style="right:496.6px;top:619px;color:#000">236</div>
<div class="n" style="right:474.6px;top:619px;color:#000">6</div>
<div class="n" style="right:450.6px;top:619px;color:#000">-15</div>
<div class="n" style="right:414.6px;top:603px;color:#000">851</div>
<div class="n" style="right:392.6px;top:603px;color:#000">96</div>
<div class="n" style="right:356.6px;top:603px;color:#000">933</div>
<div class="n" style="right:334.6px;top:603px;color:#000">99</div>
<div class="n" style="right:310.6px;top:603px;color:#000">-9</div>
<div class="n" style="right:414.6px;top:619px;color:#000">35</div>
<div class="n" style="right:392.6px;top:619px;color:#000">4</div>
<div class="n" style="right:356.6px;top:619px;color:#000">14</div>
<div class="n" style="right:334.6px;top:619px;color:#000">1</div>
<div class="n" style="right:310.6px;top:619px;color:#000">150</div>
<div class="n" style="right:269.6px;top:603px;color:#000">1.410</div>
<div class="n" style="right:247.6px;top:603px;color:#000">96</div>
<div class="n" style="right:204.6px;top:603px;color:#000">958</div>
<div class="n" style="right:182.6px;top:603px;color:#000">95</div>
<div class="n" style="right:158.6px;top:603px;color:#000">47</div>
<div class="n" style="right:269.6px;top:619px;color:#000">63</div>
<div class="n" style="right:247.6px;top:619px;color:#000">4</div>
<div class="n" style="right:204.6px;top:619px;color:#000">49</div>
<div class="n" style="right:182.6px;top:619px;color:#000">5</div>
<div class="n" style="right:158.6px;top:619px;color:#000">29</div>
<div class="n" style="right:116.6px;top:603px;color:#000">1.795</div>
<div class="n" style="right:93.6px;top:603px;color:#000">95</div>
<div class="n" style="right:50.6px;top:603px;color:#000">2.019</div>
<div class="n" style="right:28.6px;top:603px;color:#000">92</div>
<div class="n" style="right:4.6px;top:603px;color:#000">-11</div>
<div class="n" style="right:116.6px;top:619px;color:#000">103</div>
<div class="n" style="right:93.6px;top:619px;color:#000">5</div>
<div class="n" style="right:50.6px;top:619px;color:#000">173</div>
<div class="n" style="right:28.6px;top:619px;color:#000">8</div>
<div class="n" style="right:4.6px;top:619px;color:#000">-40</div>
<div class="b" style="left:1px;top:641px;color:#1515cc;letter-spacing:-0.08px">BATEZ BESTEKO</div>
<div class="b" style="left:1px;top:653px;color:#1515cc;letter-spacing:0.375px">EGONALDIA</div>
<div class="n" style="right:560.6px;top:646px;color:#1515cc">2,50</div>
<div class="n" style="right:496.6px;top:646px;color:#1515cc">2,56</div>
<div class="n" style="right:450.6px;top:646px;color:#1515cc">-2</div>
<div class="n" style="right:414.6px;top:646px;color:#1515cc">2,49</div>
<div class="n" style="right:356.6px;top:646px;color:#1515cc">2,86</div>
<div class="n" style="right:310.6px;top:646px;color:#1515cc">-13</div>
<div class="n" style="right:269.6px;top:646px;color:#1515cc">2,15</div>
<div class="n" style="right:204.6px;top:646px;color:#1515cc">2,56</div>
<div class="n" style="right:158.6px;top:646px;color:#1515cc">-16</div>
<div class="n" style="right:116.6px;top:646px;color:#1515cc">2,78</div>
<div class="n" style="right:50.6px;top:646px;color:#1515cc">2,43</div>
<div class="n" style="right:4.6px;top:646px;color:#1515cc">14</div>
<div class="b" style="left:1px;top:673px;color:#1515cc;letter-spacing:0.25px">BETETZE-MAILA</div>
<div class="b" style="left:1px;top:685px;color:#1515cc;letter-spacing:0px">PLAZAKA</div>
<div class="n" style="right:560.6px;top:678px;color:#1515cc">9,55</div>
<div class="n" style="right:496.6px;top:678px;color:#1515cc">9,81</div>
<div class="n" style="right:450.6px;top:678px;color:#1515cc">-3</div>
<div class="n" style="right:414.6px;top:678px;color:#1515cc">9,48</div>
<div class="n" style="right:356.6px;top:678px;color:#1515cc">12,88</div>
<div class="n" style="right:310.6px;top:678px;color:#1515cc">-26</div>
<div class="n" style="right:269.6px;top:678px;color:#1515cc">9,04</div>
<div class="n" style="right:204.6px;top:678px;color:#1515cc">7,29</div>
<div class="n" style="right:158.6px;top:678px;color:#1515cc">24</div>
<div class="n" style="right:116.6px;top:678px;color:#1515cc">9,92</div>
<div class="n" style="right:50.6px;top:678px;color:#1515cc">10,29</div>
<div class="n" style="right:4.6px;top:678px;color:#1515cc">-4</div>
<div class="b" style="left:1px;top:699px;color:#1515cc;letter-spacing:0.25px">BETETZE-MAILA</div>
<div class="b" style="left:1px;top:710px;color:#1515cc;letter-spacing:0px">GELAKA</div>
<div class="n" style="right:560.6px;top:703px;color:#1515cc">11,13</div>
<div class="n" style="right:496.6px;top:703px;color:#1515cc">12,12</div>
<div class="n" style="right:450.6px;top:703px;color:#1515cc">-8</div>
<div class="n" style="right:414.6px;top:703px;color:#1515cc">10,13</div>
<div class="n" style="right:356.6px;top:703px;color:#1515cc">16,45</div>
<div class="n" style="right:310.6px;top:703px;color:#1515cc">-38</div>
<div class="n" style="right:269.6px;top:703px;color:#1515cc">10,54</div>
<div class="n" style="right:204.6px;top:703px;color:#1515cc">9,21</div>
<div class="n" style="right:158.6px;top:703px;color:#1515cc">14</div>
<div class="n" style="right:116.6px;top:703px;color:#1515cc">11,98</div>
<div class="n" style="right:50.6px;top:703px;color:#1515cc">12,43</div>
<div class="n" style="right:4.6px;top:703px;color:#1515cc">-4</div></div>
</body></html>
